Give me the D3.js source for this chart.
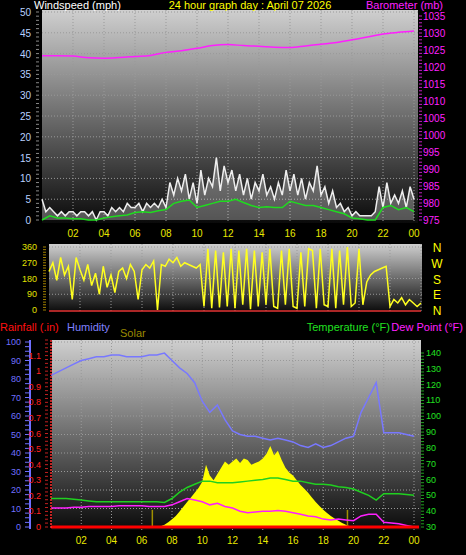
<!DOCTYPE html>
<html><head><meta charset="utf-8">
<script src="https://cdn.jsdelivr.net/npm/d3@7"></script>
<style>
body{margin:0;background:#000;}
text{font-family:"Liberation Sans",Arial,sans-serif;}
</style></head><body>
<script>
// ---- data ----
const hourTicks = [2, 4, 6, 8, 10, 12, 14, 16, 18, 20, 22, 24];
const hourLabels = ['02','04','06','08','10','12','14','16','18','20','22','00'];

// 15-minute gusts (mph)
const windGust = [5,2,3,2, 1,2,1,2, 2,1,2,2, 1,2,0,2, 2,1,3,2, 3,2,4,3, 3,4,2,4, 3,4,3,5,
  3,9,6,10, 7,11,5,9, 4,12,6,10, 8,15,7,13, 9,12,7,11, 6,10,5,9, 7,11,6,8, 5,9,6,12,
  7,11,6,10, 5,9,7,13, 6,8,4,7, 3,4,2,3, 1,2,1,1, 1,1,2,8, 3,9,4,6, 4,7,3,8, 5];
// half-hour average wind (mph)
const windAvg = [0,1,0.5,0.5,0.3,0.3,0,0,0.5,0.8,1,1.2,1.8,2,1.8,2.2,2.5,4,4.5,4.8,3,3.5,4,4.5,
  4.5,5,4.2,3.5,3,3.2,3,3,4.5,4,3.5,3.5,3,2.5,2,1.5,0.5,0.3,0,0,3,3.5,2.5,3,2];
// hourly barometer (mb)
const baro = [1023.3,1023.3,1023.2,1022.7,1022.6,1022.8,1023.1,1023.4,1024.3,1024.8,1025.5,1026.3,
  1026.6,1026.3,1026.1,1025.8,1025.7,1026.2,1026.7,1027.2,1028,1028.8,1029.7,1030.2,1030.6];
// 15-minute wind direction (deg)
const windDir = [220,270,170,300, 200,250,60,300, 230,170,260,140, 210,90,250,130, 200,100,220,240,
  180,260,220,60, 230,260,240,280, 0,260,250,290, 270,300,250,270, 260,250,240,260,
  20,350,10,340, 15,330,20,350, 10,340,30,350, 5,340,20,330, 30,350,20,10, 340,30,350,20,
  10,330,20,350, 340,10,350,30, 20,350,10,340, 30,360,20,40, 350,30,160,200, 220,230,240,250,
  20,60,40,70, 30,60,40,20, 40];
const dirLabels = ['N','W','S','E','N'];
// half-hour humidity (%)
const humidity = [82,84,86,88,90,91,92,92,93,93,92,92,92,93,93,94,90,86,83,78,68,62,66,58,52,50,49,49,
  48,47,48,47,46,44,43,45,43,44,46,48,49,62,70,78,51,51,51,50,49];
// half-hour temperature / dew point (F)
const temp = [48,48,48,47.5,47,46.5,46,46,46,46,46,46,46,46,46,45.5,48,52,55,57,59,59,58,58,58,58.5,
  59,59.5,60,61,61,60,59,59,58,57,57,56.5,55.5,55,54,52,50,47,51,51,51,50.5,50];
const dew = [42,42,42,42.5,42.5,43,43,43,43,43.5,43.5,43.5,43.5,43,43,43,44,46,48,47,46,44,45,43,42,40,
  39,39.5,40,40,40.5,40,39,38,37,36.5,35,34.5,35,34.5,34,37,38,38,33,32.5,32,31,30];
// 15-minute solar (W/m2), from 07:00
const solar = [0,5,15,30,50,70,100,130,160,190,220,250,290,400,330,300,340,380,420,400,420,440,410,440,
  430,400,410,420,440,470,520,460,490,430,380,350,330,300,270,245,220,190,160,135,110,90,70,55,40,25,15,5,0];
const solarStart = 7;
const rain = [0, 0];

const W = 466, H = 555;
const svg = d3.select('body').append('svg').attr('width', W).attr('height', H);
const defs = svg.append('defs');
const grad = defs.append('linearGradient').attr('id','bg').attr('x1',0).attr('x2',0).attr('y1',0).attr('y2',1);
grad.append('stop').attr('offset','0%').attr('stop-color','#cfcfcf');
grad.append('stop').attr('offset','100%').attr('stop-color','#0a0a0a');

function txt(x, y, s, color, anchor, size) {
  return svg.append('text').attr('x', x).attr('y', y).attr('fill', color)
    .attr('text-anchor', anchor || 'start').attr('font-size', size || 11).text(s);
}

function panel(x0, x1, y0, y1, xs, yTicks, ys) {
  svg.append('rect').attr('x', x0).attr('y', y0).attr('width', x1 - x0).attr('height', y1 - y0).attr('fill', 'url(#bg)');
  const g = svg.append('g').attr('stroke', '#999').attr('stroke-dasharray', '1,2').attr('stroke-width', 1);
  hourTicks.forEach(h => g.append('line').attr('x1', xs(h)).attr('x2', xs(h)).attr('y1', y0).attr('y2', y1));
  yTicks.forEach(v => g.append('line').attr('x1', x0).attr('x2', x1).attr('y1', ys(v)).attr('y2', ys(v)));
}

function hourAxis(xs, y) {
  hourTicks.forEach((h, i) => txt(xs(h), y, hourLabels[i], '#e8e800', 'middle', 10));
}

function minorTicks(x, ys, lo, hi, step, color, len) {
  for (let v = lo; v <= hi + 1e-9; v += step)
    svg.append('line').attr('x1', x).attr('x2', x + len).attr('y1', ys(v)).attr('y2', ys(v)).attr('stroke', color);
}

// ---- top panel: wind + barometer ----
const x1 = d3.scaleLinear().domain([0, 24]).range([42, 414]);
const yW = d3.scaleLinear().domain([0, 50]).range([220, 12]);
const yB = d3.scaleLinear().domain([975, 1035]).range([220, 16]);
panel(42, 418, 10, 223, x1, d3.range(5, 51, 5), yW);

svg.append('path').datum(windGust).attr('fill', '#ddd').attr('fill-opacity', 0.35)
  .attr('d', d3.area().x((d, i) => x1(i * 0.25)).y0(yW(0)).y1(d => yW(d)));
svg.append('path').datum(windGust).attr('fill', 'none').attr('stroke', '#eee').attr('stroke-width', 1.5)
  .attr('d', d3.line().x((d, i) => x1(i * 0.25)).y(d => yW(d)));
svg.append('path').datum(windAvg).attr('fill', 'none').attr('stroke', '#1fdc1f').attr('stroke-width', 1.5)
  .attr('d', d3.line().x((d, i) => x1(i * 0.5)).y(d => yW(d)));
svg.append('path').datum(baro).attr('fill', 'none').attr('stroke', '#ff1fff').attr('stroke-width', 1.5)
  .attr('d', d3.line().curve(d3.curveMonotoneX).x((d, i) => x1(i)).y(d => yB(d)));

minorTicks(36, yW, 0, 50, 1, '#888', 3);
d3.range(0, 51, 5).forEach(v => txt(31, yW(v) + 4, v, '#b8d0ff', 'end', 10));
minorTicks(419, yB, 975, 1035, 1, '#c020c0', 3);
d3.range(975, 1036, 5).forEach(v => txt(423, yB(v) + 4, v, '#ff20ff', 'start', 10));
hourAxis(x1, 237);

txt(34, 9, 'Windspeed (mph)', '#fff', 'start', 11);
txt(250, 9, '24 hour graph day : April 07 2026', '#ffff00', 'middle', 11);
txt(443, 9, 'Barometer (mb)', '#ff20ff', 'end', 11);

// ---- middle panel: wind direction ----
const x2 = d3.scaleLinear().domain([0, 24]).range([49, 421]);
const yD = d3.scaleLinear().domain([0, 360]).range([310, 247]);
panel(49, 422, 244, 312, x2, [90, 180, 270, 360], yD);
svg.append('path').datum(windDir).attr('fill', 'none').attr('stroke', '#ffff20').attr('stroke-width', 1.5)
  .attr('d', d3.line().x((d, i) => x2(i * 0.25)).y(d => yD(d)));
svg.append('path').datum(rain).attr('stroke', '#e03030').attr('stroke-width', 1.5)
  .attr('d', d3.line().x((d, i) => x2(i * 24)).y(() => yD(0) + 1));
minorTicks(43, yD, 0, 360, 15, '#a08000', 3);
d3.range(0, 361, 90).forEach(v => txt(37, yD(v) + 3, v, '#e0e000', 'end', 9));
dirLabels.forEach((s, i) => txt(437, yD(360 - i * 90) + 5, s, '#ffff00', 'middle', 12));

// ---- bottom panel ----
const x3 = d3.scaleLinear().domain([0, 24]).range([51, 414]);
const yH = d3.scaleLinear().domain([0, 100]).range([527, 342]);
const yR = d3.scaleLinear().domain([0, 1.2]).range([527, 340]);
const yT = d3.scaleLinear().domain([30, 140]).range([527, 353]);
const yS = d3.scaleLinear().domain([0, 1200]).range([527, 340]);
panel(52, 421, 340, 530, x3, d3.range(10, 101, 10), yH);

svg.append('path').datum(solar).attr('fill', '#ffff00')
  .attr('d', d3.area().x((d, i) => x3(solarStart + i * 0.25)).y0(yS(0)).y1(d => yS(d)));
[6.7, 19.6].forEach(h => svg.append('line').attr('x1', x3(h)).attr('x2', x3(h))
  .attr('y1', yS(0)).attr('y2', yS(110)).attr('stroke', '#a09000').attr('stroke-width', 1.5));

[[temp, '#20d020'], [dew, '#ff20ff']].forEach(([arr, c]) =>
  svg.append('path').datum(arr).attr('fill', 'none').attr('stroke', c).attr('stroke-width', 1.5)
    .attr('d', d3.line().x((d, i) => x3(i * 0.5)).y(d => yT(d))));
svg.append('path').datum(humidity).attr('fill', 'none').attr('stroke', '#7878ff').attr('stroke-width', 1.5)
  .attr('d', d3.line().x((d, i) => x3(i * 0.5)).y(d => yH(d)));
svg.append('path').datum(rain).attr('stroke', '#ff0000').attr('stroke-width', 3)
  .attr('d', d3.line().x((d, i) => x3(i * 24) + (i ? 5 : 0)).y(d => yR(d)));

// axes
svg.append('line').attr('x1', 30).attr('x2', 30).attr('y1', 340).attr('y2', 529).attr('stroke', '#6f6fff').attr('stroke-width', 2);
minorTicks(25, yH, 0, 100, 2.5, '#6f6fff', 4);
d3.range(0, 101, 10).forEach(v => txt(21, yH(v) + 3, v, '#7070ff', 'end', 9));
svg.append('line').attr('x1', 51).attr('x2', 51).attr('y1', 340).attr('y2', 529).attr('stroke', '#ff3030').attr('stroke-dasharray', '2,1').attr('stroke-width', 1.5);
minorTicks(45, yR, 0, 1.2, 0.025, '#c02020', 3);
d3.range(0, 11).map(i => i / 10).concat([1.1]).forEach(v => txt(41, yR(v) + 3, v, '#ff2020', 'end', 9));
minorTicks(421, yT, 30, 140, 2, '#20a020', 3);
d3.range(30, 141, 10).forEach(v => txt(426, yT(v) + 3, v, '#20e020', 'start', 9));
hourAxis(x3, 544);

txt(0, 331, 'Rainfall (.in)', '#ff1010', 'start', 11);
txt(67, 331, 'Humidity', '#8080ff', 'start', 11);
txt(120, 337, 'Solar', '#9a8a00', 'start', 11);
txt(390, 331, 'Temperature (°F)', '#20e020', 'end', 11);
txt(463, 331, 'Dew Point (°F)', '#ff20ff', 'end', 11);
</script>
</body></html>
